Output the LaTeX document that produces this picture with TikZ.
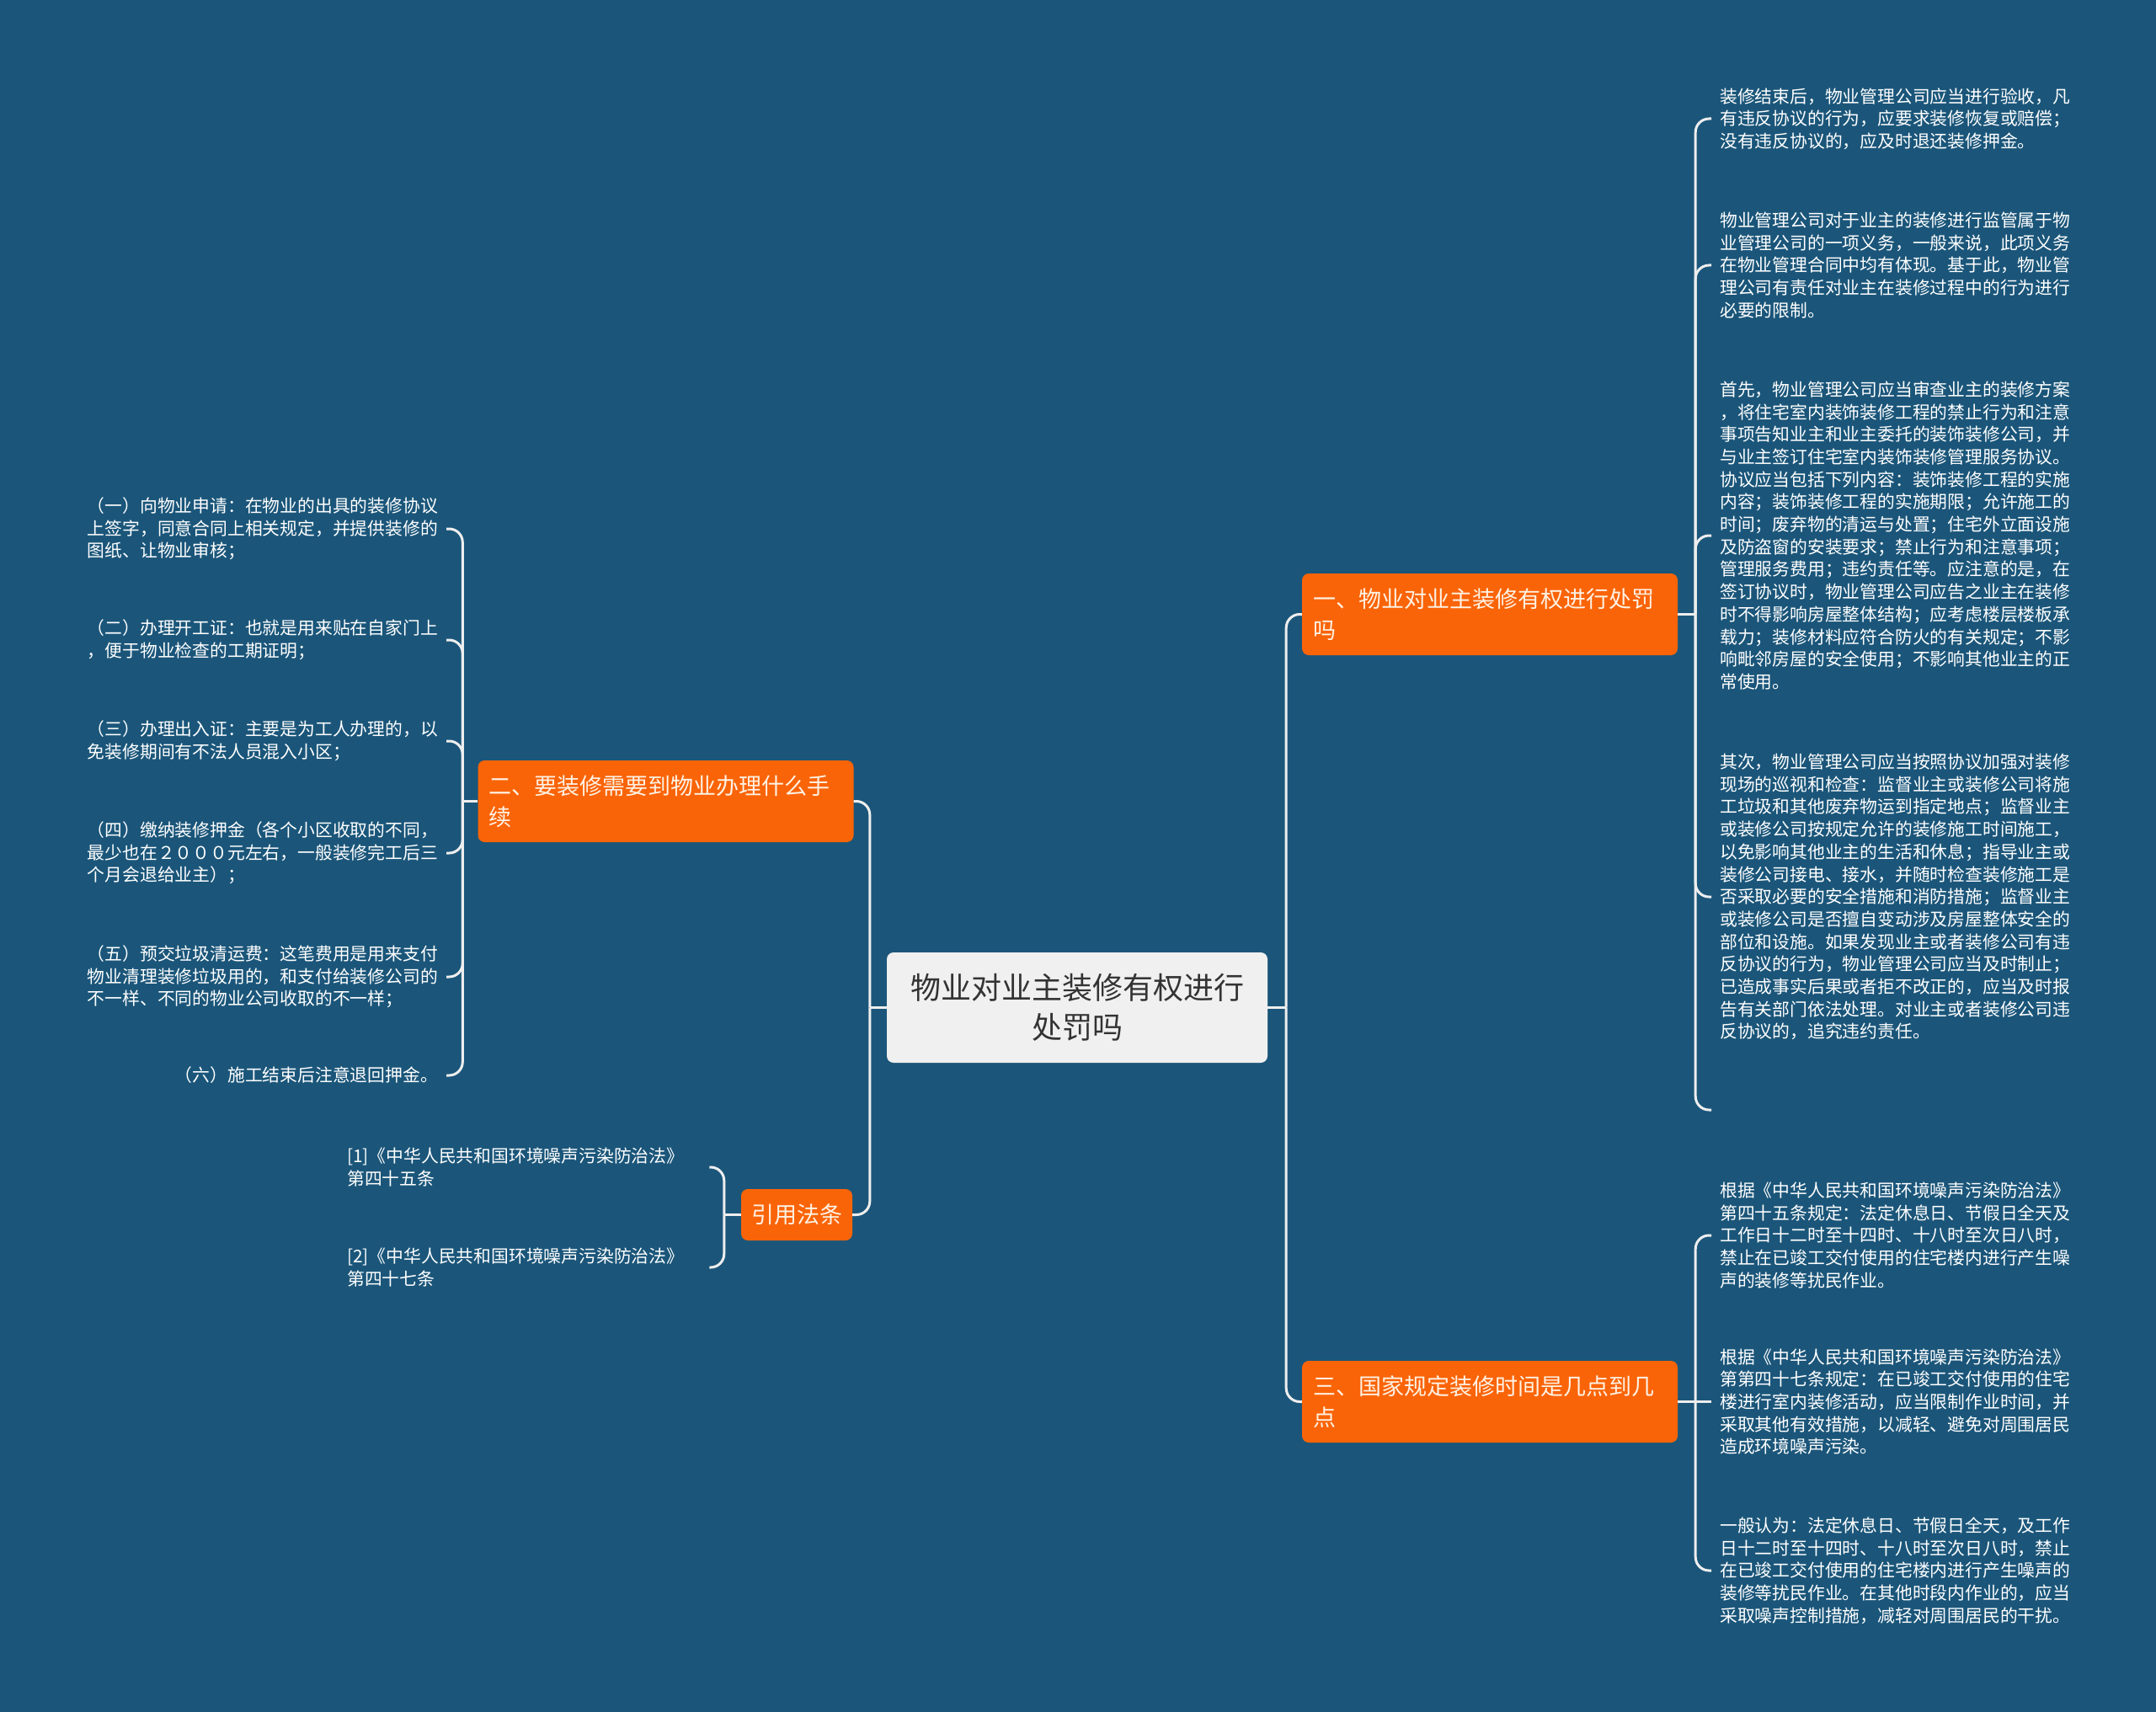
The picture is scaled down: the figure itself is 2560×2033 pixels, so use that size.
\documentclass[tikz,border=0pt]{standalone}
\usepackage{fontspec}
\setmainfont{Noto Sans CJK SC}
\definecolor{BgClr}{RGB}{27,86,122}
\definecolor{BranchClr}{RGB}{250,100,8}
\definecolor{RootClr}{RGB}{240,240,240}
\definecolor{LineClr}{RGB}{238,238,238}
\definecolor{BranchTxtClr}{RGB}{255,242,228}

\begin{document}
\begin{tikzpicture}[x=1pt,y=-1pt,
  root/.style={fill=RootClr,rounded corners=8pt,text=black!80,font=\fontsize{36}{47}\selectfont,
    minimum width=452pt,minimum height=131pt,align=center},
  branch/.style={fill=BranchClr,rounded corners=8pt,text=BranchTxtClr,font=\fontsize{27}{37}\selectfont,
    text width=420pt,inner xsep=13pt,minimum height=97pt,align=left},
  citebox/.style={fill=BranchClr,rounded corners=8pt,text=BranchTxtClr,font=\fontsize{27}{37}\selectfont,
    minimum width=132pt,minimum height=61pt,inner sep=0pt},
  leaf/.style={text=white,font=\fontsize{20.8}{26.7}\selectfont,inner xsep=10pt,inner ysep=0pt,align=left},
  link/.style={draw=LineClr,line width=3pt,rounded corners=16pt}]
\useasboundingbox (0,0) rectangle (2560,2033);
\fill[BgClr] (0,0) rectangle (2560,2033);

% root and main branches
\node[root] (c) at (1279,1196.5) {物业对业主装修有权进行\\处罚吗};
\node[branch] (b1) at (1769,729.5) {一、物业对业主装修有权进行处罚\\吗};
\node[branch] (b2) at (790.5,951.5) {二、要装修需要到物业办理什么手\\续};
\node[branch] (b3) at (1769,1664.5) {三、国家规定装修时间是几点到几\\点};
\node[citebox] (cite) at (946,1442.5) {引用法条};

% leaves of b1
\node[leaf,text width=420pt,anchor=west] (r1) at (2032,141) {装修结束后，物业管理公司应当进行验收，凡\\有违反协议的行为，应要求装修恢复或赔偿；\\没有违反协议的，应及时退还装修押金。};
\node[leaf,text width=420pt,anchor=west] (r2) at (2032,315) {物业管理公司对于业主的装修进行监管属于物\\业管理公司的一项义务，一般来说，此项义务\\在物业管理合同中均有体现。基于此，物业管\\理公司有责任对业主在装修过程中的行为进行\\必要的限制。};
\node[leaf,text width=420pt,anchor=west] (r3) at (2032,636) {首先，物业管理公司应当审查业主的装修方案\\，将住宅室内装饰装修工程的禁止行为和注意\\事项告知业主和业主委托的装饰装修公司，并\\与业主签订住宅室内装饰装修管理服务协议。\\协议应当包括下列内容：装饰装修工程的实施\\内容；装饰装修工程的实施期限；允许施工的\\时间；废弃物的清运与处置；住宅外立面设施\\及防盗窗的安装要求；禁止行为和注意事项；\\管理服务费用；违约责任等。应注意的是，在\\签订协议时，物业管理公司应告之业主在装修\\时不得影响房屋整体结构；应考虑楼层楼板承\\载力；装修材料应符合防火的有关规定；不影\\响毗邻房屋的安全使用；不影响其他业主的正\\常使用。};
\node[leaf,text width=420pt,anchor=west] (r4) at (2032,1065) {其次，物业管理公司应当按照协议加强对装修\\现场的巡视和检查：监督业主或装修公司将施\\工垃圾和其他废弃物运到指定地点；监督业主\\或装修公司按规定允许的装修施工时间施工，\\以免影响其他业主的生活和休息；指导业主或\\装修公司接电、接水，并随时检查装修施工是\\否采取必要的安全措施和消防措施；监督业主\\或装修公司是否擅自变动涉及房屋整体安全的\\部位和设施。如果发现业主或者装修公司有违\\反协议的行为，物业管理公司应当及时制止；\\已造成事实后果或者拒不改正的，应当及时报\\告有关部门依法处理。对业主或者装修公司违\\反协议的，追究违约责任。};
\coordinate (b1end) at (2032,1318);

% leaves of b3
\node[leaf,text width=420pt,anchor=west] (t1) at (2032,1467) {根据《中华人民共和国环境噪声污染防治法》\\第四十五条规定：法定休息日、节假日全天及\\工作日十二时至十四时、十八时至次日八时，\\禁止在已竣工交付使用的住宅楼内进行产生噪\\声的装修等扰民作业。};
\node[leaf,text width=420pt,anchor=west] (t2) at (2032,1664.5) {根据《中华人民共和国环境噪声污染防治法》\\第第四十七条规定：在已竣工交付使用的住宅\\楼进行室内装修活动，应当限制作业时间，并\\采取其他有效措施，以减轻、避免对周围居民\\造成环境噪声污染。};
\node[leaf,text width=420pt,anchor=west] (t3) at (2032,1865) {一般认为：法定休息日、节假日全天，及工作\\日十二时至十四时、十八时至次日八时，禁止\\在已竣工交付使用的住宅楼内进行产生噪声的\\装修等扰民作业。在其他时段内作业的，应当\\采取噪声控制措施，减轻对周围居民的干扰。};

% leaves of b2
\node[leaf,text width=416pt,anchor=east] (l1) at (530,628) {（一）向物业申请：在物业的出具的装修协议\\上签字，同意合同上相关规定，并提供装修的\\图纸、让物业审核；};
\node[leaf,text width=416pt,anchor=east] (l2) at (530,760) {（二）办理开工证：也就是用来贴在自家门上\\，便于物业检查的工期证明；};
\node[leaf,text width=416pt,anchor=east] (l3) at (530,880) {（三）办理出入证：主要是为工人办理的，以\\免装修期间有不法人员混入小区；};
\node[leaf,text width=416pt,anchor=east] (l4) at (530,1013) {（四）缴纳装修押金（各个小区收取的不同，\\最少也在２０００元左右，一般装修完工后三\\个月会退给业主）；};
\node[leaf,text width=416pt,anchor=east] (l5) at (530,1160) {（五）预交垃圾清运费：这笔费用是用来支付\\物业清理装修垃圾用的，和支付给装修公司的\\不一样、不同的物业公司收取的不一样；};
\node[leaf,anchor=east] (l6) at (530,1277) {（六）施工结束后注意退回押金。};

% citations
\node[leaf,text width=420pt,anchor=west] (ref1) at (402,1386) {[1]《中华人民共和国环境噪声污染防治法》\\第四十五条};
\node[leaf,text width=420pt,anchor=west] (ref2) at (402,1505) {[2]《中华人民共和国环境噪声污染防治法》\\第四十七条};

% connectors
\draw[link] (c.east) -- ++(22,0) coordinate (cR);
\foreach \n in {b1,b3} \draw[link] (cR) |- (\n.west);
\draw[link] (c.west) -- ++(-20,0) coordinate (cL);
\foreach \n in {b2,cite} \draw[link] (cL) |- (\n.east);

\draw[link] (b1.east) -- ++(21,0) coordinate (b1Hub);
\foreach \n in {r1,r2,r3,r4} \draw[link] (b1Hub) |- (\n.west);
\draw[link] (b1Hub) |- (b1end);

\draw[link] (b3.east) -- ++(21,0) coordinate (b3Hub);
\foreach \n in {t1,t3} \draw[link] (b3Hub) |- (\n.west);
\draw[link] (b3Hub) -- (t2.west);

\draw[link] (b2.west) -- ++(-18,0) coordinate (b2Hub);
\foreach \n in {l1,l2,l3,l4,l5,l6} \draw[link] (b2Hub) |- (\n.east);

\draw[link] (cite.west) -- ++(-20,0) coordinate (citeHub);
\foreach \n in {ref1,ref2} \draw[link] (citeHub) |- (\n.east);
\end{tikzpicture}
\end{document}
